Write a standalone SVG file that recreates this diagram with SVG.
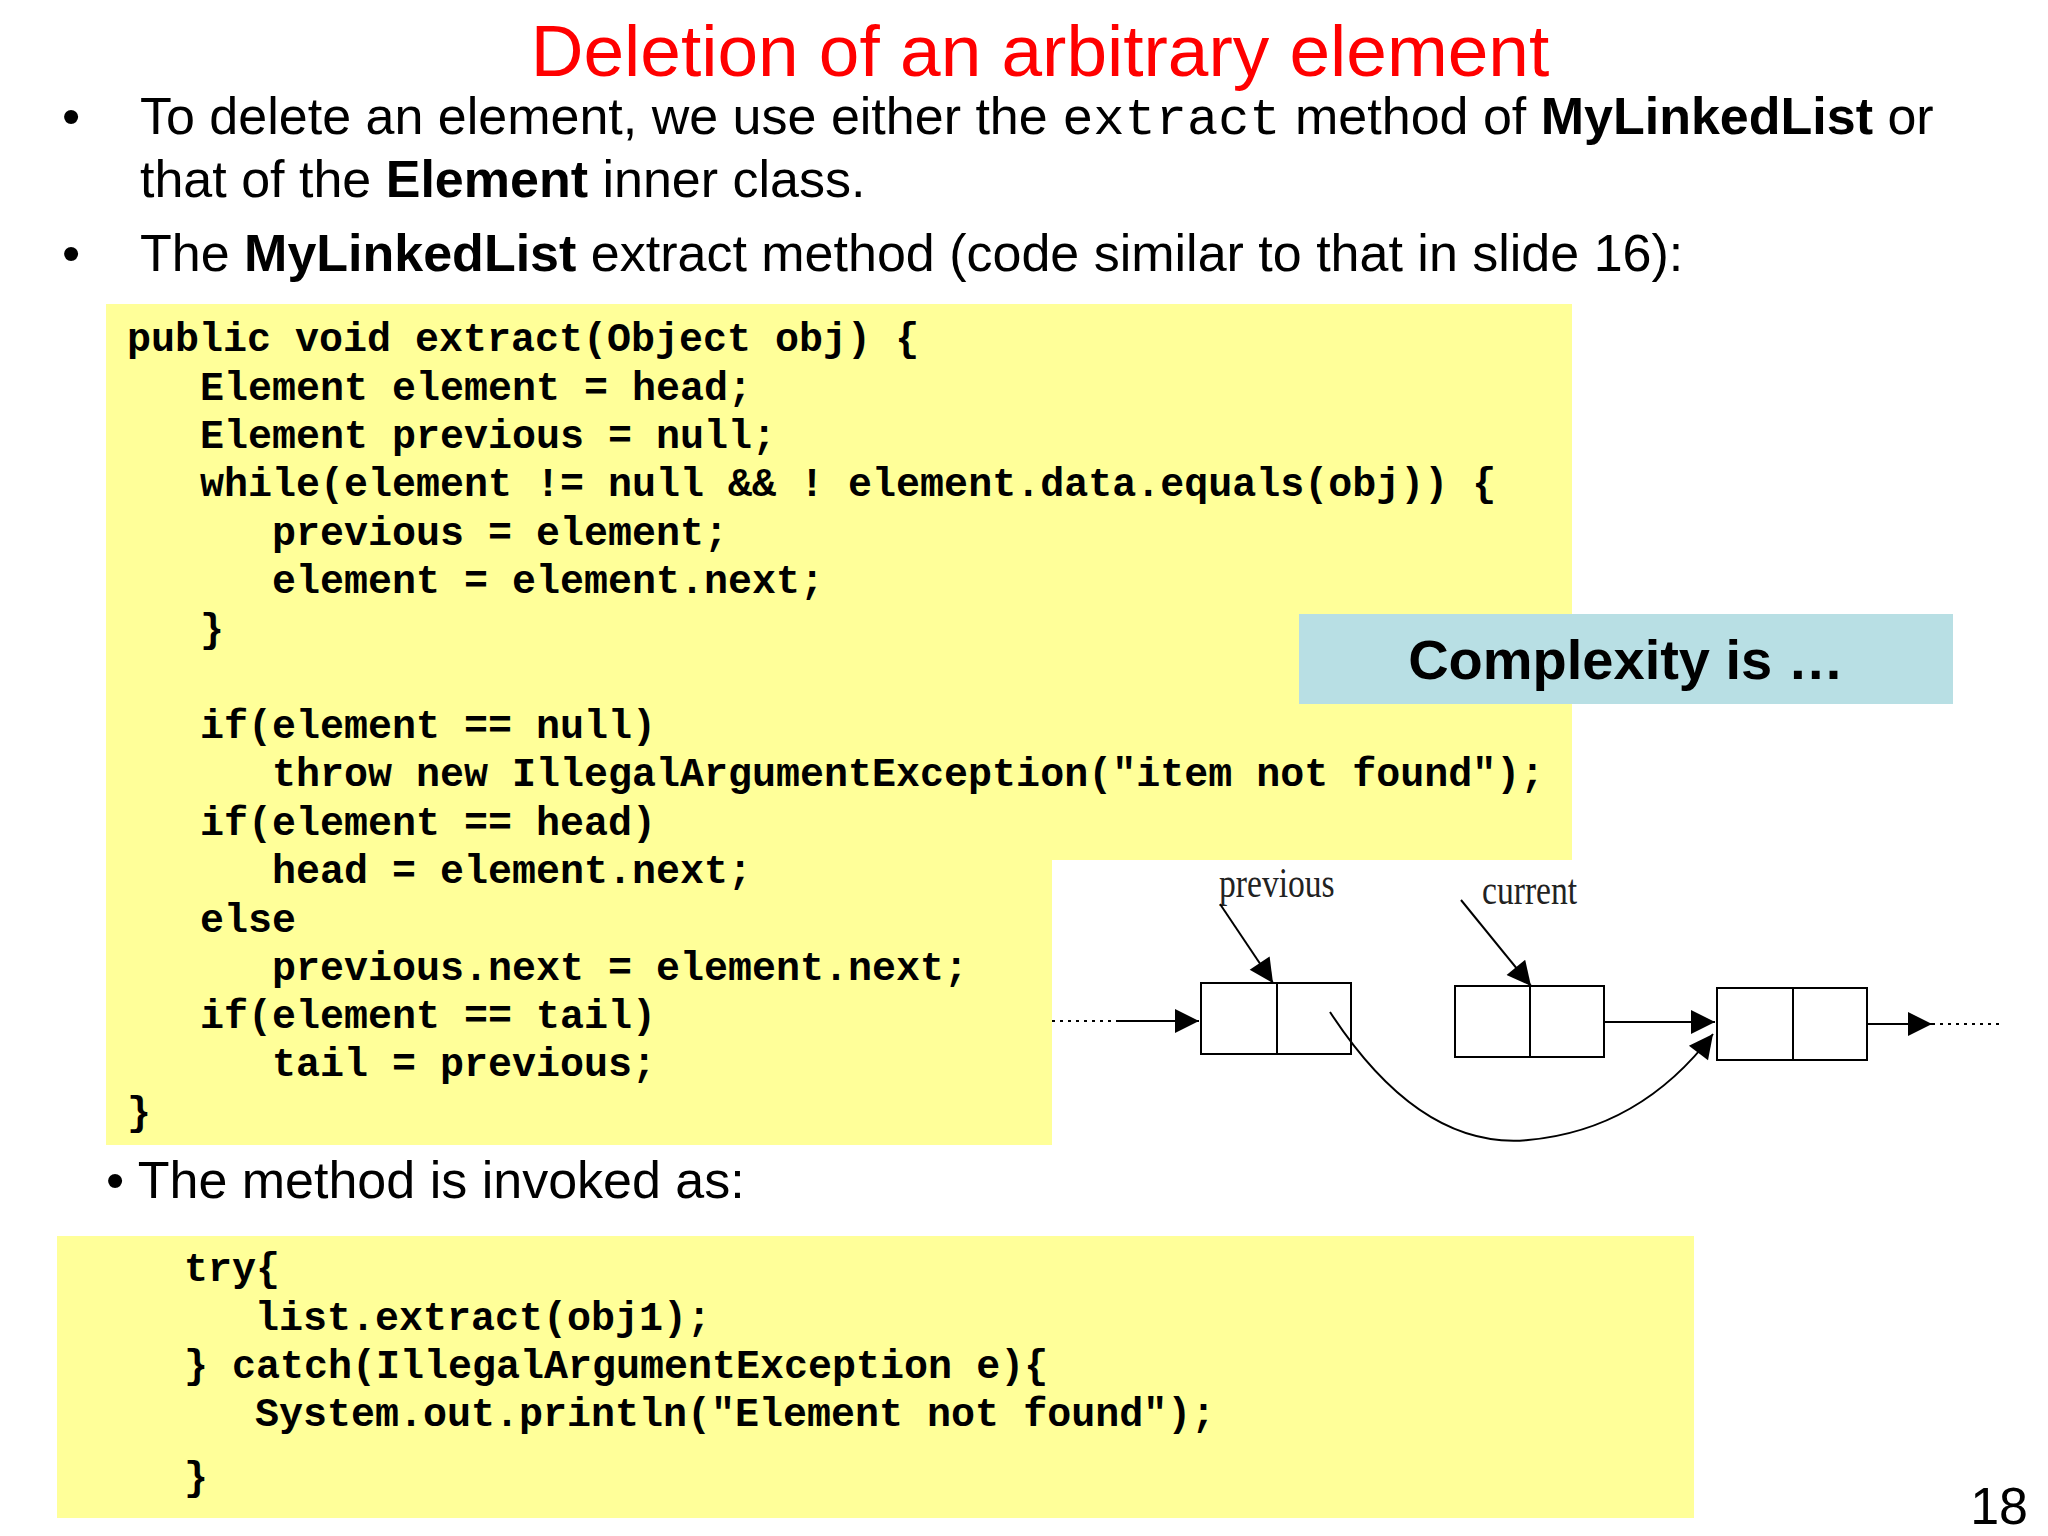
<svg xmlns="http://www.w3.org/2000/svg" width="2048" height="1536" viewBox="0 0 2048 1536">
<style>
.t{font-family:"Liberation Sans",Arial,sans-serif;font-size:52px;fill:#000}
.c{font-family:"Liberation Mono","Courier New",monospace;font-weight:bold;font-size:40px;fill:#000;white-space:pre}
.n{fill:#fff;stroke:#000;stroke-width:2}
.l{stroke:#000;stroke-width:2;fill:none}
.lab{font-family:"Liberation Serif",serif;font-size:42px;fill:#222}
</style>
<defs>
<marker id="ahb" viewBox="0 0 10 10" refX="10" refY="5" markerWidth="30" markerHeight="24" markerUnits="userSpaceOnUse" orient="auto"><path d="M0,0L10,5L0,10z" fill="#000"/></marker></defs>
<rect width="2048" height="1536" fill="#fff"/>
<text x="1040" y="76" text-anchor="middle" font-family="Liberation Sans,Arial,sans-serif" font-size="73" fill="#f00">Deletion of an arbitrary element</text>
<text class="t" x="62" y="134">•</text>
<text class="t" x="140" y="134">To delete an element, we use either the <tspan font-family="Liberation Mono,monospace">extract</tspan> method of <tspan font-weight="bold">MyLinkedList</tspan> or</text>
<text class="t" x="140" y="197">that of the <tspan font-weight="bold">Element</tspan> inner class.</text>
<text class="t" x="62" y="271">•</text>
<text class="t" x="140" y="271">The <tspan font-weight="bold">MyLinkedList</tspan> extract method (code similar to that in slide 16):</text>
<g id="code1">
<path d="M106,304H1572V860H1052V1145H106z" fill="#ffff99"/>
<text class="c" x="127" y="351">public void extract(Object obj) {</text>
<text class="c" x="200" y="400">Element element = head;</text>
<text class="c" x="200" y="448">Element previous = null;</text>
<text class="c" x="200" y="496">while(element != null &amp;&amp; ! element.data.equals(obj)) {</text>
<text class="c" x="272" y="545">previous = element;</text>
<text class="c" x="272" y="593">element = element.next;</text>
<text class="c" x="200" y="642">}</text>
<text class="c" x="200" y="738">if(element == null)</text>
<text class="c" x="272" y="786">throw new IllegalArgumentException("item not found");</text>
<text class="c" x="200" y="835">if(element == head)</text>
<text class="c" x="272" y="883">head = element.next;</text>
<text class="c" x="200" y="932">else</text>
<text class="c" x="272" y="980">previous.next = element.next;</text>
<text class="c" x="200" y="1028">if(element == tail)</text>
<text class="c" x="272" y="1076">tail = previous;</text>
<text class="c" x="127" y="1125">}</text>
</g>
<g id="complexity">
<rect x="1299" y="614" width="654" height="90" fill="#b8dfe4"/>
<text x="1626" y="679" text-anchor="middle" font-family="Liberation Sans,Arial,sans-serif" font-weight="bold" font-size="56">Complexity is …</text>
</g>
<g id="nodes">
<rect x="1201" y="983" width="150" height="71" class="n"/><line x1="1277" y1="983" x2="1277" y2="1054" class="l"/>
<rect x="1455" y="986" width="149" height="71" class="n"/><line x1="1530" y1="986" x2="1530" y2="1057" class="l"/>
<rect x="1717" y="988" width="150" height="72" class="n"/><line x1="1793" y1="988" x2="1793" y2="1060" class="l"/>
<text class="lab" x="1219" y="897" transform="translate(1219 897) scale(0.8 1) translate(-1219 -897)">previous</text>
<text class="lab" x="1482" y="904" transform="translate(1482 904) scale(0.8 1) translate(-1482 -904)">current</text>
</g>
<g id="connectors">
<line x1="1052" y1="1021" x2="1118" y2="1021" class="l" stroke-dasharray="3 5"/>
<line x1="1118" y1="1021" x2="1199" y2="1021" class="l" marker-end="url(#ahb)"/>
<line x1="1604" y1="1022" x2="1715" y2="1022" class="l" marker-end="url(#ahb)"/>
<line x1="1867" y1="1024" x2="1932" y2="1024" class="l" marker-end="url(#ahb)"/>
<line x1="1932" y1="1024" x2="2002" y2="1024" class="l" stroke-dasharray="3 5"/>
<path d="M1330,1012Q1420,1150 1528,1140Q1640,1130 1713,1034" class="l" marker-end="url(#ahb)"/>
<line x1="1220" y1="904" x2="1273" y2="983" class="l" marker-end="url(#ahb)"/>
<line x1="1461" y1="900" x2="1531" y2="986" class="l" marker-end="url(#ahb)"/>
</g>
<text class="t" x="106" y="1198">• The method is invoked as:</text>
<g id="code2">
<rect x="57" y="1236" width="1637" height="282" fill="#ffff99"/>
<text class="c" x="184" y="1281">try{</text>
<text class="c" x="255" y="1330">list.extract(obj1);</text>
<text class="c" x="184" y="1378">} catch(IllegalArgumentException e){</text>
<text class="c" x="255" y="1426">System.out.println("Element not found");</text>
<text class="c" x="184" y="1490">}</text>
</g>
<text class="t" x="2028" y="1524" text-anchor="end" font-size="48">18</text>
</svg>
